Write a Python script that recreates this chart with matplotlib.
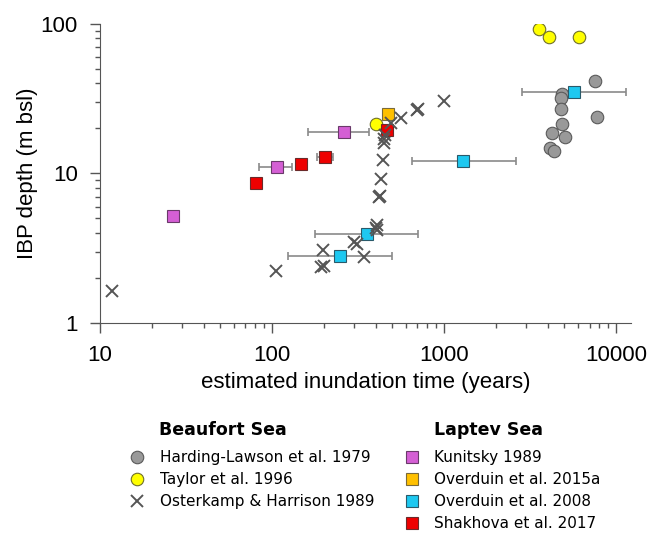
import matplotlib
matplotlib.use('Agg')
import matplotlib.pyplot as plt

# Beaufort Sea
harding_t = [7550, 4850, 4790, 4790, 4850, 7750, 4250, 5050, 4130, 4360]
harding_d = [41.6, 34.0, 32.0, 27.0, 21.4, 23.9, 18.7, 17.6, 14.8, 14.1]

taylor_t = [3560, 4080, 6100, 400]
taylor_d = [92, 82, 82, 21.3]

osterkamp_t = [11.8, 105, 199, 193, 200, 300, 310, 343, 406, 410, 402,
               420, 425, 430, 440, 445, 450, 455, 490, 562, 695, 705, 1004]
osterkamp_d = [1.64, 2.23, 3.08, 2.38, 2.42, 3.5, 3.35, 2.75, 4.5, 4.2, 4.35,
               7.0, 7.1, 9.15, 12.4, 15.9, 16.9, 18.1, 21.7, 23.4, 26.6, 26.8, 30.5]

# Laptev Sea
kunitsky_t = [26.7, 107, 262]
kunitsky_d = [5.2, 11.0, 18.9]
kunitsky_lo = [26.7, 84, 162]
kunitsky_hi = [26.7, 131, 366]

overduin15_t = [471]
overduin15_d = [25.0]

overduin08_t = [5675, 1295, 355, 249]
overduin08_d = [35.3, 12.1, 3.94, 2.82]
overduin08_lo = [2850, 649, 178, 123]
overduin08_hi = [11480, 2612, 709, 496]

shakhova_t = [80.7, 147, 203, 464]
shakhova_d = [8.68, 11.5, 12.97, 19.5]
shakhova_lo = [80.7, 147, 182, 464]
shakhova_hi = [80.7, 147, 225, 464]

plt.rcParams['font.family'] = 'Liberation Sans'

fig = plt.figure(figsize=(6.51, 5.40), dpi=100)
ax = fig.add_axes([0.1536, 0.4019, 0.8157, 0.5537])

ebkw = dict(fmt='none', ecolor='#8a8a8a', elinewidth=1.2, capsize=3, capthick=1.2, zorder=1)

def xerr(t, lo, hi):
    return [[a - b for a, b in zip(t, lo)], [b - a for a, b in zip(t, hi)]]

ax.errorbar(kunitsky_t, kunitsky_d, xerr=xerr(kunitsky_t, kunitsky_lo, kunitsky_hi), **ebkw)
ax.errorbar(overduin08_t, overduin08_d, xerr=xerr(overduin08_t, overduin08_lo, overduin08_hi), **ebkw)
ax.errorbar(shakhova_t, shakhova_d, xerr=xerr(shakhova_t, shakhova_lo, shakhova_hi), **ebkw)

h1, = ax.plot(harding_t, harding_d, 'o', ms=9, mfc='#999999', mec='#5a5a5a', mew=0.8, zorder=3)
h2, = ax.plot(taylor_t, taylor_d, 'o', ms=9, mfc='#ffff00', mec='#6e6e2a', mew=0.8, zorder=3)
h3, = ax.plot(osterkamp_t, osterkamp_d, 'x', ms=9, mec='#555555', mew=1.4, zorder=4)
l1, = ax.plot(kunitsky_t, kunitsky_d, 's', ms=8.5, mfc='#d45fd4', mec='#6a3a6a', mew=0.8, zorder=3)
l2, = ax.plot(overduin15_t, overduin15_d, 's', ms=8.5, mfc='#ffc000', mec='#7a6a3a', mew=0.8, zorder=3)
l3, = ax.plot(overduin08_t, overduin08_d, 's', ms=8.5, mfc='#1ec8f0', mec='#2a5a6a', mew=0.8, zorder=3)
l4, = ax.plot(shakhova_t, shakhova_d, 's', ms=8.5, mfc='#ee0000', mec='#6a2a2a', mew=0.8, zorder=3)

ax.set_xscale('log')
ax.set_yscale('log')
ax.set_xlim(10, 12200)
ax.set_ylim(1, 100)
ax.set_xticks([10, 100, 1000, 10000])
ax.set_xticklabels(['10', '100', '1000', '10000'])
ax.set_yticks([1, 10, 100])
ax.set_yticklabels(['1', '10', '100'])
ax.spines['top'].set_visible(False)
ax.spines['right'].set_visible(False)
for s in ['left', 'bottom']:
    ax.spines[s].set_color('#555555')
ax.tick_params(which='major', direction='out', length=7, width=1, colors='#555555',
               labelcolor='black', labelsize=16)
ax.tick_params(which='minor', direction='out', length=3.5, width=1, colors='#555555')
ax.tick_params(axis='x', which='major', pad=9)
ax.tick_params(axis='y', which='major', pad=9)
ax.set_xlabel('estimated inundation time (years)', fontsize=16, labelpad=4)
ax.set_ylabel('IBP depth (m bsl)', fontsize=16, labelpad=2)

legkw = dict(frameon=False, handlelength=1.0, handletextpad=1.0,
             labelspacing=0.46, borderaxespad=0,
             prop={'family': 'DejaVu Sans', 'size': 11})
fig.legend([h1, h2, h3], ['Harding-Lawson et al. 1979', 'Taylor et al. 1996',
                          'Osterkamp & Harrison 1989'],
           loc='upper left', bbox_to_anchor=(0.1894, 0.1778), **legkw)
fig.legend([l1, l2, l3, l4], ['Kunitsky 1989', 'Overduin et al. 2015a',
                              'Overduin et al. 2008', 'Shakhova et al. 2017'],
           loc='upper left', bbox_to_anchor=(0.611, 0.1778), **legkw)
fig.text(159 / 651, 1 - 430 / 540, 'Beaufort Sea', family='DejaVu Sans', weight='bold',
         size=12.5, va='center', ha='left')
fig.text(434 / 651, 1 - 430 / 540, 'Laptev Sea', family='DejaVu Sans', weight='bold',
         size=12.5, va='center', ha='left')

fig.savefig('out.png', dpi=100)
